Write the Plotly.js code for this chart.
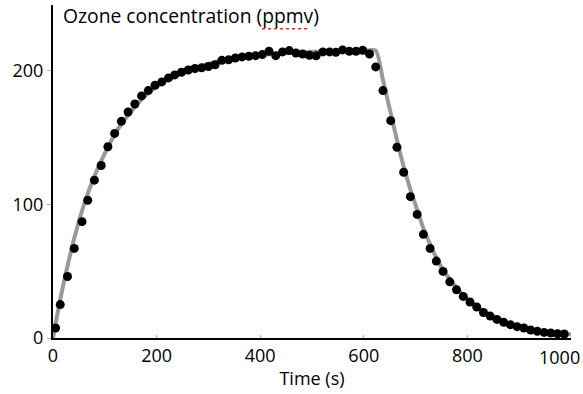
<!DOCTYPE html>
<html>
<head>
<meta charset="utf-8">
<script src="https://cdn.plot.ly/plotly-3.0.1.min.js"></script>
<style>html,body{margin:0;padding:0;background:#fff;}#chart{width:583px;height:394px;}</style>
</head>
<body>
<div id="chart"></div>
<script>
// Measured ozone concentration (dots)
const timeMeasured = [5,14,28,41,56,67,80,93,106,119,132,145,158,171,184,197,210,223,235,248,261,274,287,300,313,326,339,352,365,378,391,404,417,430,443,456,469,482,495,508,521,534,546,559,572,585,598,611,623,637,652,664,677,690,703,715,728,740,753,766,779,792,805,818,831,844,857,870,883,896,909,922,935,948,961,974,987];
const ozoneMeasured = [7.5,25,46,67,87,103,118,129,143,153,162,169,175,181,185,189,191.5,194.5,196.7,198.7,200.4,201.5,202,203,204.3,207.6,208,209.4,210.2,210.7,211.1,211.9,214.4,211.1,213.9,214.9,213.1,212.4,211.4,211,213.9,213.9,213.6,215.4,214.4,214.4,215.1,212.4,202.7,185,162.5,142.6,123.9,105.7,92.4,77.5,67,57.5,49.8,42,36.1,31.1,26.9,23.2,19.1,16.4,13.9,11.8,10,8.5,7.5,6,5,4.2,3.7,3.2,3.0];
// Model curve (grey line)
const timeModel = [0,10,20,40,60,80,100,125,150,175,200,250,300,350,400,450,500,550,600,623,637,652,664,677,690,703,715,728,740,753,766,792,818,844,870,896,922,948,974,1000];
const ozoneModel = [0,21,40,73,100,121,138,156,169,180,188,198.5,205,209,211.6,213,214,214.4,214.8,215,193,168,148,128,111,96,82,70,60,51,44,32,23.5,17,12.3,9,6.5,4.8,3.5,2.6];
const xTicks = [0,200,400,600,800,1000];
const xTickText = ['0','200','400','600','800',''];
const lastTickValue = 1000;
const lastTickText = '1000';
const yTicks = [0,100,200];
const titleText = 'Ozone concentration (ppmv)';
const xTitle = 'Time (s)';

const FONT = '"Open Sans", "Liberation Sans", sans-serif';

const traces = [
  {x: timeModel, y: ozoneModel, type: 'scatter', mode: 'lines',
   line: {color: '#999999', width: 4, shape: 'spline', smoothing: 0.6}, hoverinfo: 'skip'},
  {x: timeMeasured, y: ozoneMeasured, type: 'scatter', mode: 'markers',
   marker: {color: '#000000', size: 9}, cliponaxis: false}
];

const layout = {
  width: 583, height: 394,
  margin: {l: 53, r: 12, t: 5, b: 56},
  paper_bgcolor: '#ffffff', plot_bgcolor: '#ffffff',
  showlegend: false,
  font: {family: FONT, size: 18, color: '#000000'},
  xaxis: {
    range: [0, 1000], tickvals: xTicks, ticktext: xTickText,
    showgrid: false, zeroline: false, showline: true, linecolor: '#000000', linewidth: 2,
    ticks: 'inside', ticklen: 3, tickcolor: '#aaaaaa', tickwidth: 1,
    tickfont: {family: FONT, size: 18, color: '#000000'},
    title: {text: xTitle, font: {family: FONT, size: 18, color: '#000000'}, standoff: 7},
    automargin: false, fixedrange: true
  },
  yaxis: {
    range: [0, 249], tickvals: yTicks, ticktext: yTicks.map(String),
    showgrid: false, zeroline: false, showline: true, linecolor: '#000000', linewidth: 2,
    ticks: 'outside', ticklen: 4, tickcolor: '#aaaaaa', tickwidth: 1,
    tickfont: {family: FONT, size: 18, color: '#000000'},
    automargin: false, fixedrange: true
  },
  annotations: [
    {text: titleText, xref: 'paper', yref: 'paper', x: 0.016, y: 0.967,
     xanchor: 'left', yanchor: 'middle', showarrow: false,
     font: {family: FONT, size: 19.3, color: '#000000'}},
    {text: lastTickText, xref: 'x', yref: 'paper', x: lastTickValue, y: 0,
     xanchor: 'center', yanchor: 'top', xshift: -12, yshift: -5, showarrow: false,
     font: {family: FONT, size: 18, color: '#000000'}}
  ],
  shapes: [
    {type: 'line', xref: 'paper', yref: 'paper', x0: 0.4035, x1: 0.496, y0: 0.929, y1: 0.929,
     line: {color: '#e03030', width: 1.5, dash: 'dot'}}
  ]
};

Plotly.newPlot('chart', traces, layout, {displayModeBar: false, staticPlot: true});
</script>
</body>
</html>
